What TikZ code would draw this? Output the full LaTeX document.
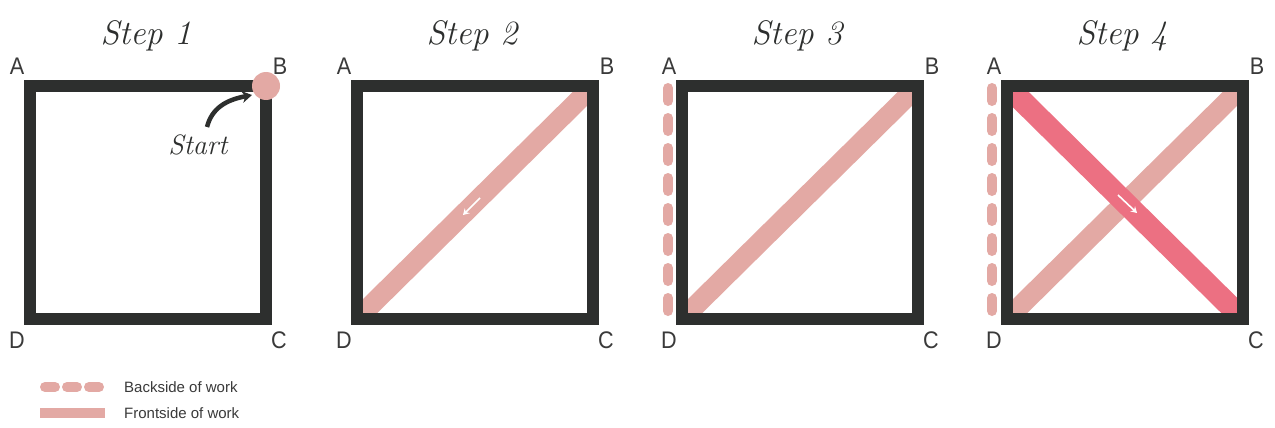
\documentclass[tikz,border=0pt]{standalone}
\usepackage{fontspec}
\newfontfamily\labfont{Liberation Sans}
\usetikzlibrary{arrows.meta,calc}
\definecolor{framecol}{HTML}{2D2F2E}
\definecolor{lightpink}{HTML}{E3A9A4}
\definecolor{hotpink}{HTML}{EC7082}
\definecolor{labgray}{HTML}{3A3A3A}
\begin{document}
\begin{tikzpicture}[x=1pt,y=-1pt,
  frameline/.style={draw=framecol,line width=12pt,line join=miter},
  frontband/.style={draw=lightpink,line width=20pt},
  redband/.style={draw=hotpink,line width=22pt},
  backdash/.style={draw=lightpink,line width=10pt,line cap=round,dash pattern=on 13pt off 17pt},
  cornerlab/.style={font=\labfont\fontsize{24}{24}\selectfont,text=labgray,inner sep=0pt,xscale=0.9},
  steptitle/.style={font=\itshape\fontsize{34}{34}\selectfont,text=framecol,inner sep=0pt},
  legtext/.style={font=\labfont\fontsize{15}{15}\selectfont,text=labgray,inner sep=0pt,anchor=west},
  dirarrow/.style={draw=white,line width=1.6pt,-{Stealth[length=6pt,width=7pt]}}
]
\useasboundingbox[fill=white] (0,0) rectangle (1275,428);
% corners
\foreach \i/\L in {1/30,2/357,3/682,4/1007}{
  \coordinate (A\i) at (\L,86);
  \coordinate (B\i) at (\L+236,86);
  \coordinate (C\i) at (\L+236,319);
  \coordinate (D\i) at (\L,319);
}
% bands
\begin{scope}
\clip (A2) rectangle (C2);
\draw[frontband] (D2) -- (B2);
\end{scope}
\begin{scope}
\clip (A3) rectangle (C3);
\draw[frontband] (D3) -- (B3);
\end{scope}
\begin{scope}
\clip (A4) rectangle (C4);
\draw[frontband] (D4) -- (B4);
\draw[redband] (A4) -- (C4);
\end{scope}
% back dashes
\coordinate (bs3) at ($(A3)+(-14,2)$);
\coordinate (be3) at ($(D3)+(-14,5)$);
\coordinate (bs4) at ($(A4)+(-15,2)$);
\coordinate (be4) at ($(D4)+(-15,5)$);
\draw[backdash] (bs3) -- (be3);
\draw[backdash] (bs4) -- (be4);
% frames
\foreach \i in {1,2,3,4}{
  \draw[frameline] (A\i) -- (B\i) -- (C\i) -- (D\i) -- cycle;
}
% start dot
\fill[lightpink] (B1) circle (14);
% labels
\foreach \i in {1,2,3,4}{
  \node[cornerlab] (lA\i) at ($(A\i)+(-13,-20)$) {A};
  \node[cornerlab] (lB\i) at ($(B\i)+(14,-20)$) {B};
  \node[cornerlab] (lC\i) at ($(C\i)+(13,21)$) {C};
  \node[cornerlab] (lD\i) at ($(D\i)+(-13,21)$) {D};
}
% titles
\node[steptitle] (t1) at (146,36) {Step 1};
\node[steptitle] (t2) at (472,36) {Step 2};
\node[steptitle] (t3) at (797,36) {Step 3};
\node[steptitle] (t4) at (1122,36) {Step 4};
% start
\node[steptitle,font=\itshape\fontsize{28}{28}\selectfont] (start) at (198,145) {Start};
\coordinate (ss) at (207,127);
\coordinate (se) at ($(B1)+(-14,9)$);
\draw[framecol,line width=4.5pt,-{Stealth[length=10pt,width=12pt]}] (ss) .. controls (212,108) and (226,100) .. (se);
% direction arrows
\coordinate (a2s) at (480,198);
\coordinate (a2e) at (463,215);
\coordinate (a4s) at (1118,195);
\coordinate (a4e) at (1137,213);
\draw[dirarrow] (a2s) -- (a2e);
\draw[dirarrow] (a4s) -- (a4e);
% legend
\coordinate (l1s) at (45,387);
\coordinate (l1e) at (99,387);
\coordinate (l2s) at (40,413);
\coordinate (l2e) at (105,413);
\draw[draw=lightpink,line width=10pt,line cap=round,dash pattern=on 10pt off 12pt] (l1s) -- (l1e);
\draw[draw=lightpink,line width=10pt] (l2s) -- (l2e);
\node[legtext] (lg1) at (124,387) {Backside of work};
\node[legtext] (lg2) at (124,413) {Frontside of work};
\end{tikzpicture}
\end{document}
